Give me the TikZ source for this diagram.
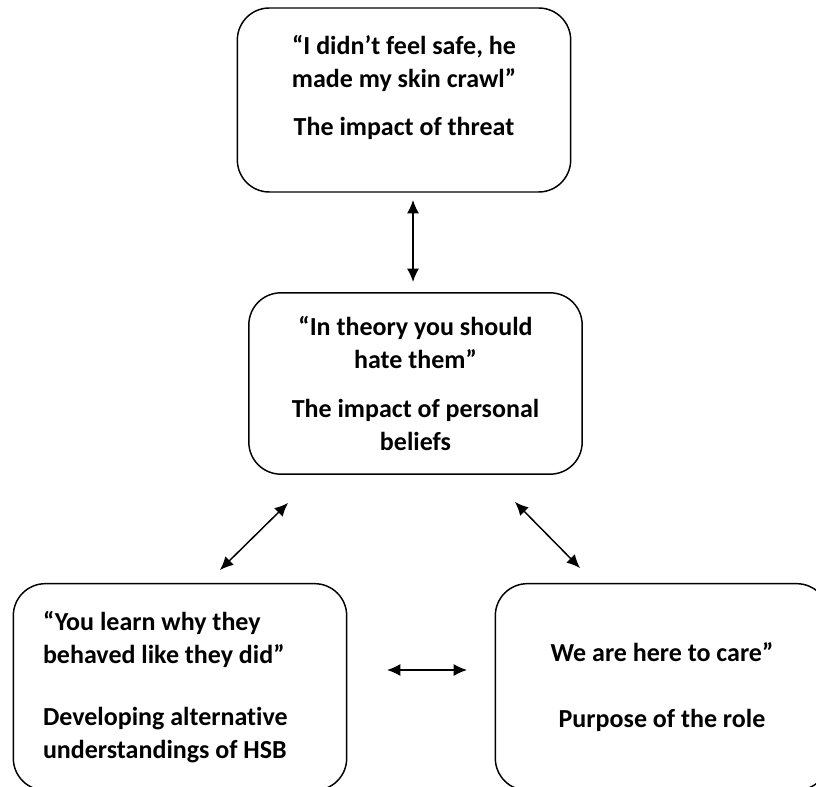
\documentclass[tikz,border=0pt]{standalone}
\usepackage{fontspec}
\setmainfont[Ligatures=NoCommon]{Carlito}
\usetikzlibrary{arrows.meta}

\begin{document}
\begin{tikzpicture}[x=0.75pt,y=-0.75pt,
  box/.style={draw,line width=1.1pt,rounded corners=24pt,minimum width=250pt,
    font=\bfseries\fontsize{19.5}{24.75}\selectfont,align=center},
  link/.style={line width=1.1pt,{Latex[length=10pt,width=9pt]}-{Latex[length=10pt,width=9pt]}}]
\clip (0,0) rectangle (816,787);
% boxes
\node[box,minimum height=138pt,text depth=22pt] (threat) at (404,100)
  {“I didn’t feel safe, he\\ made my skin crawl”\\[11pt] The impact of threat};
\node[box,minimum height=136pt] (beliefs) at (415.5,383.5)
  {“In theory you should\\ hate them”\\[12.5pt] The impact of personal\\ beliefs};
\node[box,minimum height=155pt,align=flush left,text width=205.5pt] (hsb) at (180,687)
  {“You learn why they\\ behaved like they did”\\[22pt] Developing alternative\\ understandings of HSB};
\node[box,minimum height=155pt] (role) at (662,687)
  {We are here to care”\\[25pt] Purpose of the role};
% arrows
\coordinate (t1) at (413,200);
\coordinate (t2) at (413,282);
\coordinate (l1) at (288,503);
\coordinate (l2) at (220,570);
\coordinate (r1) at (515,502);
\coordinate (r2) at (580,568);
\coordinate (h1) at (387,670);
\coordinate (h2) at (467,670);
\draw[link] (t1) -- (t2);
\draw[link] (l1) -- (l2);
\draw[link] (r1) -- (r2);
\draw[link] (h1) -- (h2);
\end{tikzpicture}
\end{document}
